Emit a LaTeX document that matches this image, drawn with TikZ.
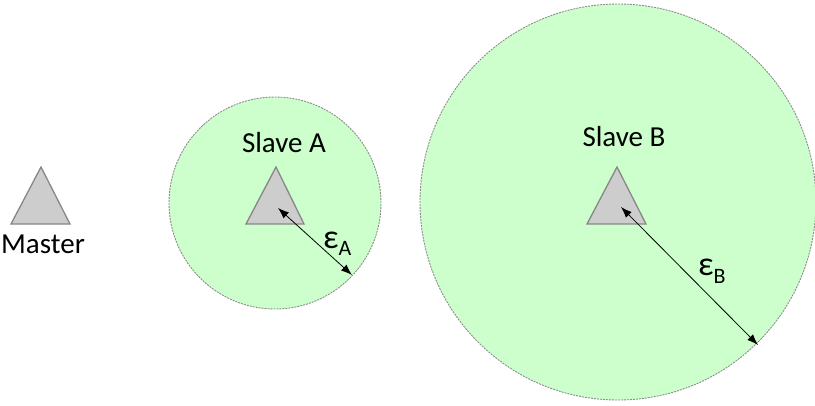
\documentclass[tikz,border=0pt]{standalone}
\usepackage{fontspec}
\setmainfont{Carlito}
\usetikzlibrary{arrows.meta}
\definecolor{zonegreen}{RGB}{204,255,204}
\definecolor{zoneedge}{RGB}{140,140,140}
\definecolor{trifill}{RGB}{206,205,205}
\definecolor{triedge}{RGB}{135,135,135}
\tikzset{
  zone/.style={fill=zonegreen, draw=zoneedge, line width=0.9pt, dash pattern=on 2pt off 1pt},
  tri/.style={fill=trifill, draw=triedge, line width=1.3pt, line join=miter},
  lbl/.style={font=\fontsize{29}{29}\selectfont, inner sep=0pt},
  eps/.style={inner sep=0pt},
  radius arrow/.style={line width=0.8pt, {Latex[length=11pt,width=8pt]}-{Latex[length=11pt,width=8pt]}}
}
\begin{document}
\begin{tikzpicture}[x=1pt,y=-1pt]
\useasboundingbox (0,0) rectangle (815,405);
\clip (0,0) rectangle (815,405);
% zones
\node[zone, circle, minimum size=212pt, inner sep=0pt] (zoneA) at (275,203) {};
\node[zone, circle, minimum size=396pt, inner sep=0pt] (zoneB) at (618,202) {};
% triangles
\draw[tri] (11,224) -- (41,167) -- (70,224) -- cycle;
\draw[tri] (246,224) -- (276,167) -- (304,224) -- cycle;
\draw[tri] (587,224) -- (617,167) -- (646,224) -- cycle;
% labels
\node[lbl, anchor=base] (master) at (43,253) {Master};
\node[lbl, anchor=base] (slaveA) at (284,152) {Slave A};
\node[lbl, anchor=base] (slaveB) at (624,146) {Slave B};
% radius arrows
\coordinate (cA) at (278,208);
\coordinate (eA) at (352,275);
\coordinate (cB) at (621,207);
\coordinate (eB) at (758,345);
\draw[radius arrow] (cA) -- (eA);
\draw[radius arrow] (cB) -- (eB);
\node[eps, anchor=base west] (epsA) at (323,248) {\fontsize{34}{34}\selectfont ε\raisebox{-7pt}{\fontsize{22}{22}\selectfont A}};
\node[eps, anchor=base west] (epsB) at (698,275) {\fontsize{34}{34}\selectfont ε\raisebox{-8pt}{\fontsize{22}{22}\selectfont B}};
\end{tikzpicture}
\end{document}
